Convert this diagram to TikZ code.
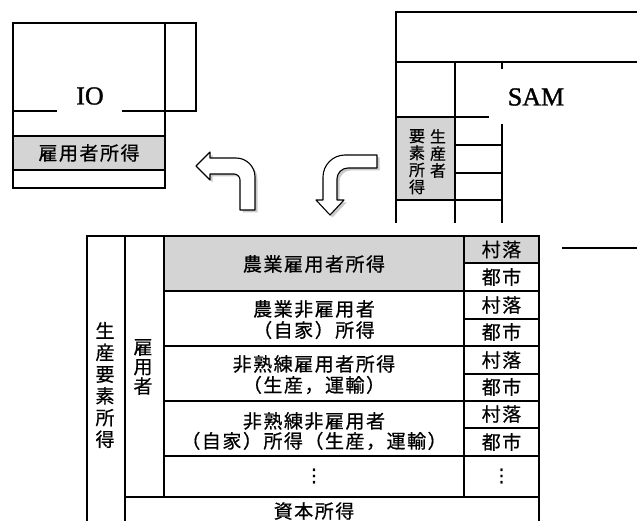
\documentclass[tikz,border=0pt]{standalone}
\usepackage{fontspec}
\setmainfont{Liberation Serif}
\newfontfamily\latf{Liberation Serif}[FakeBold=1.2]
\newfontfamily\jp{Noto Sans CJK JP}[LetterSpace=8,FakeBold=0.6]
\newfontfamily\jpv{Noto Sans CJK JP}[FakeBold=0.6]
\newfontfamily\dvs{DejaVu Sans}[FakeBold=1]
\usetikzlibrary{shadows}
\tikzset{
  ln/.style={line width=1.6pt, line cap=rect},
  cellfill/.style={fill=black!17},
  jt/.style={inner sep=0pt, font=\jp\fontsize{19}{21}\selectfont, align=center},
  jtv/.style={inner sep=0pt, font=\jpv\fontsize{19}{21.7}\selectfont, align=center},
  jts/.style={inner sep=0pt, font=\jpv\fontsize{16}{17}\selectfont, align=center},
  lat/.style={inner sep=0pt, font=\latf\fontsize{26}{28}\selectfont},
  vdots/.style={inner sep=0pt, font=\dvs\fontsize{18}{20}\selectfont},
  bentarrow/.style={draw=black, line width=1.1pt, fill=white, line join=round,
    drop shadow={shadow xshift=2.5pt, shadow yshift=-2.5pt, opacity=0.35, fill=black!60}},
}
\begin{document}
\begin{tikzpicture}[x=1pt,y=-1pt]
\useasboundingbox (0,0) rectangle (637,521);

% ---------- IO ----------
\fill[cellfill] (13,136) rectangle (165,170);
\draw[ln] (13,188) -- (13,23) -- (196,23) -- (196,111) -- (165,111);
\draw[ln] (165,23) -- (165,188);
\draw[ln] (13,111) -- (56,111);
\draw[ln] (123,111) -- (165,111);
\draw[ln] (13,136) -- (165,136);
\draw[ln] (13,170) -- (165,170);
\draw[ln] (13,188) -- (165,188);
\node[lat] (io) at (90,96) {IO};
\node[jt] (iowage) at (89,153) {雇用者所得};

% ---------- SAM ----------
\fill[cellfill] (396,117) rectangle (455,200);
\draw[ln] (396,222) -- (396,12) -- (637,12);
\draw[ln] (396,62) -- (637,62);
\draw[ln] (455,62) -- (455,222);
\draw[ln] (396,117) -- (488,117);
\draw[ln] (502,62) -- (502,68);
\draw[ln] (502,125) -- (502,222);
\draw[ln] (455,145) -- (502,145);
\draw[ln] (455,173) -- (502,173);
\draw[ln] (396,200) -- (502,200);
\node[lat] (sam) at (536,97) {SAM};
\node[jts, anchor=north] (samprod) at (438,129) {生\\産\\者};
\node[jts, anchor=north] (samfac) at (417,129) {要\\素\\所\\得};

% ---------- arrows ----------
\path[bentarrow] (196,166) -- (210,152) -- (210,158) -- (236,158)
  .. controls (246.5,158) and (255,166.5) .. (255,177) -- (255,210) -- (240,210)
  -- (240,180) .. controls (240,176.7) and (237.3,174) .. (234,174)
  -- (210,174) -- (210,180) -- cycle;
\path[bentarrow] (377,155) -- (345,155)
  .. controls (332.9,155) and (323,164.9) .. (323,177) -- (323,200) -- (316,200)
  -- (330,215) -- (344,200) -- (337,200) -- (337,179)
  .. controls (337,172.9) and (341.9,168) .. (348,168) -- (377,168) -- cycle;

% ---------- main table ----------
\fill[cellfill] (164,236) rectangle (464,291);
\fill[cellfill] (464,236) rectangle (539,263);
\draw[ln] (87,521) -- (87,236) -- (539,236) -- (539,521);
\draw[ln] (125,236) -- (125,521);
\draw[ln] (164,236) -- (164,497);
\draw[ln] (464,236) -- (464,497);
\foreach \y in {291,346,401,456} \draw[ln] (164,\y) -- (539,\y);
\foreach \y in {263,319,374,428} \draw[ln] (464,\y) -- (539,\y);
\draw[ln] (125,497) -- (539,497);
\draw[ln] (563,248) -- (637,248);

\node[jtv] (factor) at (105,385) {生\\産\\要\\素\\所\\得};
\node[jtv, font=\jpv\fontsize{19}{19.5}\selectfont] (employed) at (143,367) {雇\\用\\者};

\node[jt] (r1) at (314,264) {農業雇用者所得};
\node[jt] (r2a) at (314,309) {農業非雇用者};
\node[jt] (r2b) at (314,330) {（自家）所得};
\node[jt] (r3a) at (314,364) {非熟練雇用者所得};
\node[jt] (r3b) at (314,385) {（生産，運輸）};
\node[jt] (r4a) at (314,421) {非熟練非雇用者};
\node[jt] (r4b) at (314,441) {（自家）所得（生産，運輸）};
\node[vdots] (r5) at (314,476) {⋮};
\node[jt] (cap) at (314,511) {資本所得};

\foreach \y/\t [count=\i] in {249.5/村落,277/都市,305/村落,332/都市,360/村落,387/都市,414/村落,442/都市}
  \node[jt] (loc\i) at (501.5,\y) {\t};
\node[vdots] (locdots) at (501.5,476) {⋮};
\end{tikzpicture}
\end{document}
